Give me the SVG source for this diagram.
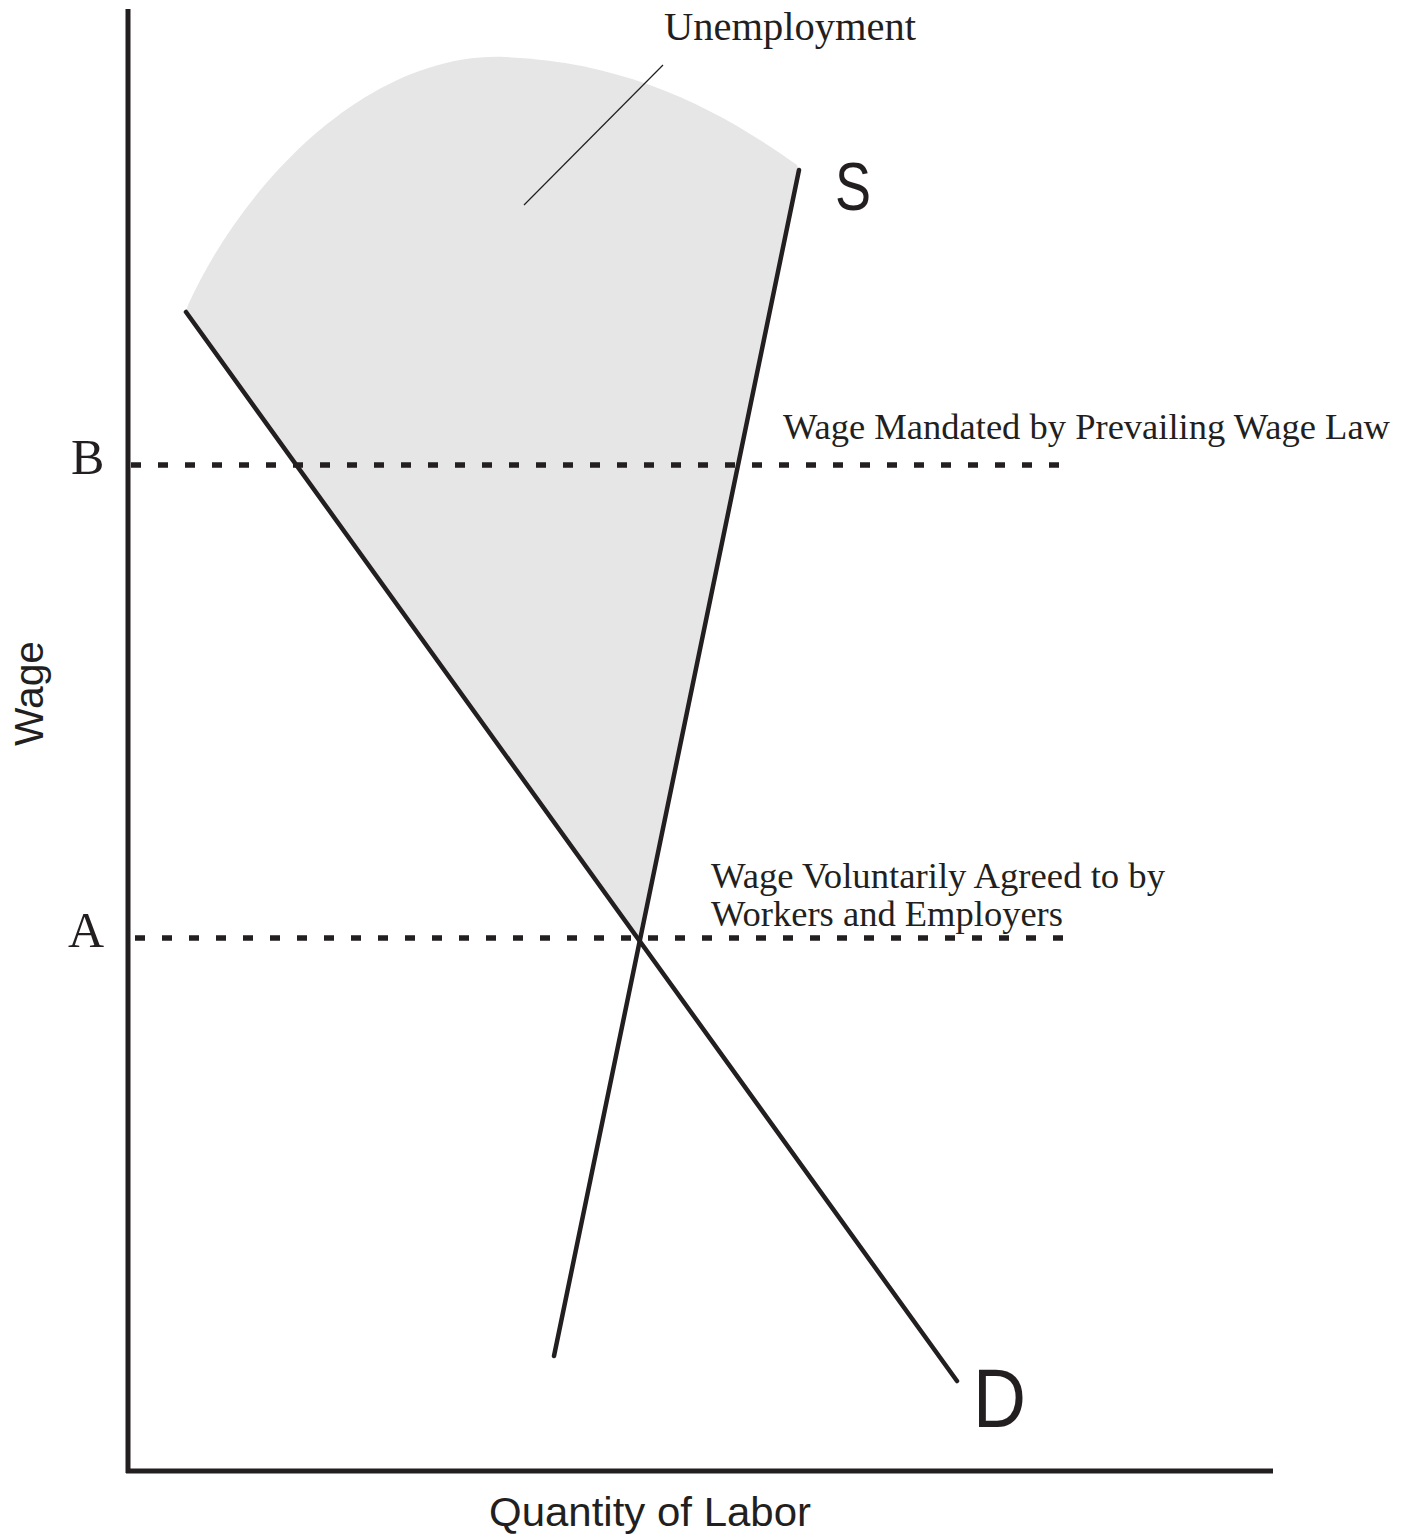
<svg xmlns="http://www.w3.org/2000/svg" width="1412" height="1536" viewBox="0 0 1412 1536">
<style>
.ax{stroke:#231f20;stroke-width:5;fill:none}
.curve{stroke:#231f20;stroke-width:4.5;fill:none;stroke-linecap:round}
.dash{stroke:#231f20;stroke-width:5.5;fill:none;stroke-dasharray:10 17}
.serif{font-family:"Liberation Serif","Times New Roman",serif;fill:#231f20}
.sans{font-family:"Liberation Sans",Arial,sans-serif;fill:#231f20}
</style>
<rect width="1412" height="1536" fill="#ffffff"/>
<g id="unemployment-area">
<path d="M186,312 L188,305 C245,180 370,52 505,57 C630,62 720,110 797,165 L799,170 L638,938 Z" fill="#e6e6e6"/>
</g>
<g id="axes">
<line class="ax" x1="128" y1="9" x2="128" y2="1473"/>
<line class="ax" x1="126" y1="1471" x2="1273" y2="1471"/>
</g>
<g id="connectors">
<line class="dash" x1="131" y1="465" x2="1066" y2="465"/>
<line class="dash" x1="135" y1="938" x2="1071" y2="938"/>
<line class="curve" x1="186" y1="312" x2="957" y2="1381"/>
<line class="curve" x1="799" y1="170" x2="554" y2="1356"/>
<line x1="663" y1="65" x2="524" y2="205" stroke="#231f20" stroke-width="1.2"/>
</g>
<g id="labels">
<text class="serif" x="664" y="40" font-size="40" textLength="252" lengthAdjust="spacingAndGlyphs">Unemployment</text>
<text class="sans" x="835" y="210" font-size="68" textLength="36" lengthAdjust="spacingAndGlyphs">S</text>
<text class="sans" x="973" y="1427" font-size="84" textLength="53" lengthAdjust="spacingAndGlyphs">D</text>
<text class="serif" x="71" y="474" font-size="50">B</text>
<text class="serif" x="68" y="947" font-size="50">A</text>
<text class="serif" x="783" y="439" font-size="36" textLength="607" lengthAdjust="spacingAndGlyphs">Wage Mandated by Prevailing Wage Law</text>
<text class="serif" x="711" y="888" font-size="36" textLength="454" lengthAdjust="spacingAndGlyphs">Wage Voluntarily Agreed to by</text>
<text class="serif" x="711" y="926" font-size="36" textLength="352" lengthAdjust="spacingAndGlyphs">Workers and Employers</text>
<text class="sans" x="0" y="0" font-size="40" transform="translate(43,746) rotate(-90)" textLength="105" lengthAdjust="spacingAndGlyphs">Wage</text>
<text class="sans" x="489" y="1526" font-size="41" textLength="322" lengthAdjust="spacingAndGlyphs">Quantity of Labor</text>
</g>
</svg>
